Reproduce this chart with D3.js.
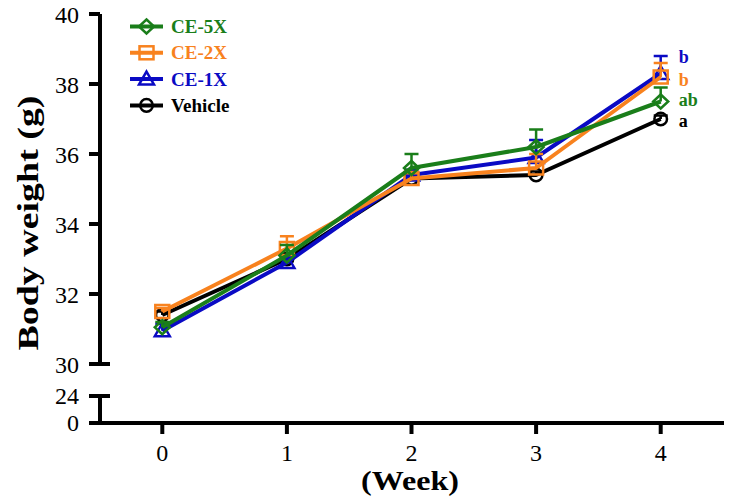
<!DOCTYPE html>
<html><head><meta charset="utf-8">
<script src="https://cdn.jsdelivr.net/npm/d3@7"></script>
<style>body{margin:0;background:#fff}svg{display:block}</style>
</head><body>
<svg id="c" width="737" height="501"></svg>
<script>
const weeks = [0, 1, 2, 3, 4];
const seriesNames = ["Vehicle", "CE-1X", "CE-2X", "CE-5X"];
const legendOrder = ["CE-5X", "CE-2X", "CE-1X", "Vehicle"];
const vehicle = [31.4, 33.0, 35.3, 35.4, 37.0];
const vehicleErr = [0.1, 0.1, 0.1, 0.1, 0.1];
const ce1x = [30.95, 32.9, 35.4, 35.9, 38.3];
const ce1xErr = [0.2, 0.15, 0.15, 0.5, 0.5];
const ce2x = [31.5, 33.3, 35.3, 35.6, 38.2];
const ce2xErr = [0.1, 0.35, 0.15, 0.4, 0.4];
const ce5x = [31.05, 33.1, 35.6, 36.2, 37.5];
const ce5xErr = [0.15, 0.3, 0.4, 0.5, 0.4];
const sigLetters = {"CE-1X": "b", "CE-2X": "b", "CE-5X": "ab", "Vehicle": "a"};
const upperTicks = [30, 32, 34, 36, 38, 40];
const lowerTicks = [0, 24];

const colors = {"Vehicle": "#000000", "CE-1X": "#0a0ac4", "CE-2X": "#f8821e", "CE-5X": "#1a7e1a"};
const shapes = {"Vehicle": "circle", "CE-1X": "triangle", "CE-2X": "square", "CE-5X": "diamond"};
const letterShift = {"CE-1X": -17, "CE-2X": 3, "CE-5X": -2, "Vehicle": 1.5};
const data = {
  "Vehicle": {v: vehicle, e: vehicleErr},
  "CE-1X": {v: ce1x, e: ce1xErr},
  "CE-2X": {v: ce2x, e: ce2xErr},
  "CE-5X": {v: ce5x, e: ce5xErr}
};

const svg = d3.select("#c");
const font = "'Liberation Serif','Times New Roman',serif";
const axisX = 100;
const x = d3.scaleLinear().domain([-0.5, 4.5]).range([axisX, 723]);
const y = d3.scaleLinear().domain([30, 40]).range([364, 14]);
const yLow = d3.scaleLinear().domain([0, 24]).range([423, 396]);
const lw = 4;

// upper y axis
svg.append("line").attr("x1", axisX).attr("x2", axisX).attr("y1", y(40)).attr("y2", y(30))
  .attr("stroke", "#000").attr("stroke-width", lw);
upperTicks.forEach(t => {
  const right = t === 30 ? axisX + 10 : axisX;
  svg.append("line").attr("x1", axisX - 11).attr("x2", right).attr("y1", y(t)).attr("y2", y(t))
    .attr("stroke", "#000").attr("stroke-width", lw);
  svg.append("text").attr("x", 79).attr("y", y(t) + 1).attr("dy", "0.35em").attr("text-anchor", "end")
    .attr("font-family", font).attr("font-size", 24).text(t);
});
// lower y axis segment
svg.append("line").attr("x1", axisX).attr("x2", axisX).attr("y1", yLow(24)).attr("y2", yLow(0))
  .attr("stroke", "#000").attr("stroke-width", lw);
lowerTicks.forEach(t => {
  const right = t === 24 ? axisX + 10 : axisX;
  svg.append("line").attr("x1", axisX - 11).attr("x2", right).attr("y1", yLow(t)).attr("y2", yLow(t))
    .attr("stroke", "#000").attr("stroke-width", lw);
  svg.append("text").attr("x", 79).attr("y", yLow(t)).attr("dy", "0.35em").attr("text-anchor", "end")
    .attr("font-family", font).attr("font-size", 24).text(t);
});
// x axis
svg.append("line").attr("x1", axisX - 11).attr("x2", 724).attr("y1", yLow(0)).attr("y2", yLow(0))
  .attr("stroke", "#000").attr("stroke-width", lw);
weeks.forEach(w => {
  svg.append("line").attr("x1", x(w)).attr("x2", x(w)).attr("y1", yLow(0)).attr("y2", yLow(0) + 11)
    .attr("stroke", "#000").attr("stroke-width", lw);
  svg.append("text").attr("x", x(w)).attr("y", 461).attr("text-anchor", "middle")
    .attr("font-family", font).attr("font-size", 24).text(w);
});
// titles
svg.append("text").attr("transform", "translate(38,223) rotate(-90)").attr("text-anchor", "middle")
  .attr("font-family", font).attr("font-size", 29).attr("font-weight", "bold")
  .attr("textLength", 255).attr("lengthAdjust", "spacingAndGlyphs").text("Body weight (g)");
svg.append("text").attr("x", 410).attr("y", 490).attr("text-anchor", "middle")
  .attr("font-family", font).attr("font-size", 28).attr("font-weight", "bold")
  .attr("textLength", 98).attr("lengthAdjust", "spacingAndGlyphs").text("(Week)");

function marker(g, shape, cx, cy, color) {
  const sw = 2.5;
  if (shape === "circle") {
    g.append("circle").attr("cx", cx).attr("cy", cy).attr("r", 6.3).attr("fill", "none").attr("stroke", color).attr("stroke-width", sw);
  } else if (shape === "square") {
    g.append("rect").attr("x", cx - 7).attr("y", cy - 6.5).attr("width", 14).attr("height", 13).attr("fill", "none").attr("stroke", color).attr("stroke-width", sw);
  } else if (shape === "triangle") {
    g.append("path").attr("d", `M${cx},${cy - 7.5}L${cx + 7.5},${cy + 5.5}L${cx - 7.5},${cy + 5.5}Z`).attr("fill", "none").attr("stroke", color).attr("stroke-width", sw);
  } else {
    g.append("path").attr("d", `M${cx},${cy - 7}L${cx + 7.5},${cy}L${cx},${cy + 7}L${cx - 7.5},${cy}Z`).attr("fill", "none").attr("stroke", color).attr("stroke-width", sw);
  }
}

const line = d3.line().x((d, i) => x(weeks[i])).y(d => y(d));
seriesNames.forEach(name => {
  const g = svg.append("g");
  const c = colors[name];
  const s = data[name];
  // error bars (upper)
  s.v.forEach((v, i) => {
    const top = y(v + s.e[i]);
    g.append("line").attr("x1", x(weeks[i])).attr("x2", x(weeks[i])).attr("y1", y(v)).attr("y2", top)
      .attr("stroke", c).attr("stroke-width", 2.5);
    g.append("line").attr("x1", x(weeks[i]) - 7).attr("x2", x(weeks[i]) + 7).attr("y1", top).attr("y2", top)
      .attr("stroke", c).attr("stroke-width", 2.5);
  });
  g.append("path").datum(s.v).attr("d", line).attr("fill", "none").attr("stroke", c)
    .attr("stroke-width", lw).attr("stroke-linejoin", "round");
  s.v.forEach((v, i) => marker(g, shapes[name], x(weeks[i]), y(v), c));
  // significance letter
  svg.append("text").attr("x", x(4) + 18).attr("y", y(s.v[4]) + letterShift[name])
    .attr("dy", "0.35em").attr("font-family", font).attr("font-size", 18).attr("font-weight", "bold")
    .attr("fill", c).text(sigLetters[name]);
});

// legend
legendOrder.forEach((name, i) => {
  const ly = 26.5 + i * 26.3;
  const c = colors[name];
  svg.append("line").attr("x1", 130).attr("x2", 163).attr("y1", ly).attr("y2", ly).attr("stroke", c).attr("stroke-width", lw);
  marker(svg, shapes[name], 146.5, ly, c);
  svg.append("text").attr("x", 171).attr("y", ly).attr("dy", "0.35em").attr("font-family", font)
    .attr("font-size", 19).attr("font-weight", "bold").attr("fill", c).text(name);
});
</script>
</body></html>
